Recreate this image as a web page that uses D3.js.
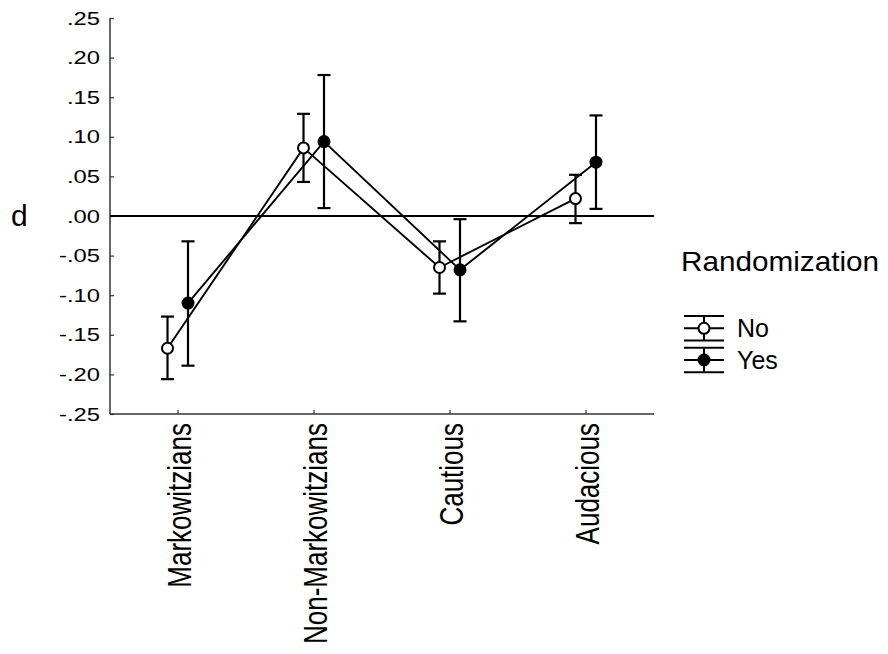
<!DOCTYPE html>
<html>
<head>
<meta charset="utf-8">
<script src="https://cdn.jsdelivr.net/npm/d3@7"></script>
<style>
  html, body { margin: 0; padding: 0; background: #fff; }
  svg { display: block; font-family: "Liberation Sans", Arial, sans-serif; }
</style>
</head>
<body>
<svg id="chart" width="888" height="654"></svg>
<script>
// Group means of d with error bars, by investor type and randomization
const categories = ["Markowitzians", "Non-Markowitzians", "Cautious", "Audacious"];
const seriesNames = ["No", "Yes"];

const noMean  = [-0.167, 0.086, -0.065, 0.022];
const noLow   = [-0.206, 0.043, -0.098, -0.009];
const noHigh  = [-0.127, 0.129, -0.032, 0.052];

const yesMean = [-0.110, 0.094, -0.068, 0.068];
const yesLow  = [-0.189, 0.010, -0.133, 0.009];
const yesHigh = [-0.032, 0.178, -0.004, 0.127];

const yTicks = [0.25, 0.20, 0.15, 0.10, 0.05, 0.00, -0.05, -0.10, -0.15, -0.20, -0.25];
const yTickLabels = [".25", ".20", ".15", ".10", ".05", ".00", "-.05", "-.10", "-.15", "-.20", "-.25"];

const series = [
  { name: "No",  mean: noMean,  low: noLow,  high: noHigh,  fill: "#fff" },
  { name: "Yes", mean: yesMean, low: yesLow, high: yesHigh, fill: "#000" }
];

const svg = d3.select("#chart");
const plot = { left: 110, right: 654, top: 18, bottom: 414 };
const wide = 1.25; // horizontal widening of the text glyphs

const x = d3.scaleBand().domain(categories).range([plot.left, plot.right]);
const offset = d3.scalePoint().domain(seriesNames).range([-10.5, 10]);
const y = d3.scaleLinear().domain([-0.25, 0.25]).range([plot.bottom, plot.top]);
const cx = (cat, s) => x(cat) + x.bandwidth() / 2 + offset(s);

// Axes (ticks point inward)
const yAxis = d3.axisLeft(y).tickValues(yTicks).tickSize(-4).tickPadding(8)
  .tickFormat((d, i) => yTickLabels[i]);
const gy = svg.append("g").attr("transform", `translate(${plot.left},0)`).call(yAxis);
gy.select(".domain").attr("stroke", "#333").attr("stroke-width", 1.5)
  .attr("d", `M0,${plot.top}V${plot.bottom}`);
gy.selectAll(".tick line").attr("stroke", "#333").attr("stroke-width", 1.2);
gy.selectAll(".tick text").attr("fill", "#000")
  .attr("transform", `scale(${wide},1)`)
  .style("font-size", "19px").attr("font-family", "Liberation Sans, Arial, sans-serif");

const xAxis = d3.axisBottom(x).tickSize(-4).tickFormat("");
const gx = svg.append("g").attr("transform", `translate(0,${plot.bottom})`).call(xAxis);
gx.select(".domain").attr("stroke", "#333").attr("stroke-width", 1.5)
  .attr("d", `M${plot.left},0H${plot.right}`);
gx.selectAll(".tick line").attr("stroke", "#333").attr("stroke-width", 1.2);

// Rotated category labels
svg.append("g").selectAll("text").data(categories).join("text")
  .attr("transform", d => `translate(${x(d) + x.bandwidth() / 2 + 1},${plot.bottom + 9}) scale(${wide},1) rotate(-90)`)
  .attr("text-anchor", "end")
  .attr("dy", "0.36em")
  .style("font-size", "26px")
  .text(d => d);

// Zero reference line
svg.append("line")
  .attr("x1", plot.left).attr("x2", plot.right)
  .attr("y1", y(0)).attr("y2", y(0))
  .attr("stroke", "#000").attr("stroke-width", 2);

// Y title
svg.append("text").attr("x", 11).attr("y", 226)
  .style("font-size", "30px").text("d");

// Connecting lines
const line = d3.line();
series.forEach(s => {
  svg.append("path")
    .attr("d", line(categories.map((c, i) => [cx(c, s.name), y(s.mean[i])])))
    .attr("fill", "none").attr("stroke", "#000").attr("stroke-width", 1.9);
});

// Error bars and markers
const capW = 6.5;
series.forEach(s => {
  const g = svg.append("g");
  categories.forEach((c, i) => {
    const px = cx(c, s.name);
    g.append("line").attr("x1", px).attr("x2", px)
      .attr("y1", y(s.low[i])).attr("y2", y(s.high[i]))
      .attr("stroke", "#000").attr("stroke-width", 2.2);
    [s.low[i], s.high[i]].forEach(v => {
      g.append("line").attr("x1", px - capW).attr("x2", px + capW)
        .attr("y1", y(v)).attr("y2", y(v))
        .attr("stroke", "#000").attr("stroke-width", 2.2);
    });
  });
  g.selectAll("circle").data(s.mean).join("circle")
    .attr("cx", (d, i) => cx(categories[i], s.name))
    .attr("cy", d => y(d))
    .attr("r", 5.5)
    .attr("fill", s.fill).attr("stroke", "#000").attr("stroke-width", 2);
});

// Legend
const legend = svg.append("g");
legend.append("text")
  .attr("transform", "translate(681,271) scale(1.1,1)")
  .style("font-size", "27px").text("Randomization");
series.forEach((s, i) => {
  const cy = 328.3 + i * 31.7;
  const lg = legend.append("g");
  [-12.3, 0, 12.3].forEach(dyv => {
    lg.append("line").attr("x1", 684).attr("x2", 724)
      .attr("y1", cy + dyv).attr("y2", cy + dyv)
      .attr("stroke", "#000").attr("stroke-width", 2);
  });
  lg.append("line").attr("x1", 704).attr("x2", 704)
    .attr("y1", cy - 12.3).attr("y2", cy + 12.3)
    .attr("stroke", "#000").attr("stroke-width", 2);
  lg.append("circle").attr("cx", 704).attr("cy", cy).attr("r", 5.5)
    .attr("fill", s.fill).attr("stroke", "#000").attr("stroke-width", 2);
  lg.append("text").attr("x", 737).attr("y", cy + 9)
    .style("font-size", "25px").text(s.name);
});
</script>
</body>
</html>
